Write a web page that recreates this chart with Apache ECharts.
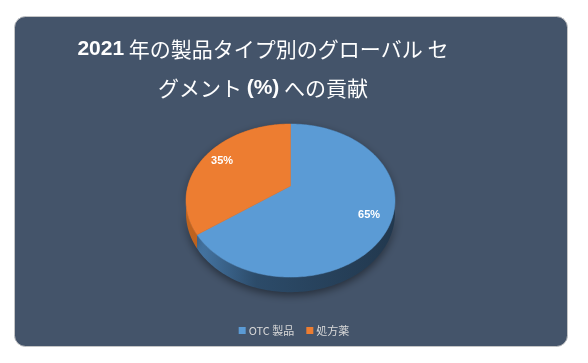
<!DOCTYPE html>
<html>
<head>
<meta charset="utf-8">
<script src="https://cdn.jsdelivr.net/npm/echarts@6/dist/echarts.min.js"></script>
<style>
html,body{margin:0;padding:0;background:#ffffff;}
#c{width:588px;height:363px;}
</style>
</head>
<body>
<div id="c"></div>
<script>
// ---- data ----
var categories = ['OTC 製品', '処方薬'];
var shares = [65, 35];
var labels = ['65%', '35%'];

var total = shares.reduce(function (a, b) { return a + b; }, 0);

// projection of a tilted circle (perspective)
var CX = 290.5, CY = 186, A = 73.8, B = 102.6, K = -0.19, DEPTH = 12.2;
function proj(theta, r, dz) {
  var u = Math.sin(theta) * r, v = -Math.cos(theta) * r;
  var den = 1 + K * v;
  return [CX + B * u / den, CY + A * v / den + (dz || 0) / den];
}

var topColors = ['#5B9BD5', '#ED7D31'];
var sideColors = [
  new echarts.graphic.LinearGradient(0, 0, 1, 0, [
    { offset: 0, color: '#4677a6' }, { offset: 0.3, color: '#2c4b69' }, { offset: 1, color: '#22384e' }]),
  new echarts.graphic.LinearGradient(0, 0, 1, 0, [
    { offset: 0, color: '#c0641f' }, { offset: 1, color: '#9a4e18' }])
];

function makeRender(idx) {
  return function (params, api) {
    var before = 0;
    for (var i = 0; i < idx; i++) before += shares[i];
    var val = api.value(0);
    var t0 = before / total * Math.PI * 2;
    var t1 = (before + val) / total * Math.PI * 2;
    var n = Math.max(8, Math.ceil((t1 - t0) / 0.02));
    var topPts = [[CX, CY]];
    var arcTop = [], arcBot = [];
    for (var j = 0; j <= n; j++) {
      var t = t0 + (t1 - t0) * j / n;
      arcTop.push(proj(t, 1, 0));
      arcBot.push(proj(t, 1, DEPTH));
    }
    topPts = topPts.concat(arcTop);
    var sidePts = arcTop.concat(arcBot.slice().reverse());
    var mid = (t0 + t1) / 2;
    var lp = proj(mid, 0.8, 0);
    return {
      type: 'group',
      children: [
        { type: 'polygon', z2: 1, shape: { points: sidePts },
          style: { fill: sideColors[idx], shadowColor: 'rgba(0,0,0,0.45)', shadowBlur: 8, shadowOffsetY: 3 } },
        { type: 'polygon', z2: 10, shape: { points: topPts },
          style: { fill: topColors[idx], stroke: topColors[idx], lineWidth: 0.5 } },
        { type: 'text', z2: 20, x: lp[0], y: lp[1],
          style: { text: labels[idx], fill: '#ffffff', font: 'bold 11px "Liberation Sans", Arial, sans-serif',
                   align: 'center', verticalAlign: 'middle' } }
      ]
    };
  };
}

var chart = echarts.init(document.getElementById('c'), null, { renderer: 'canvas' });
chart.setOption({
  backgroundColor: '#ffffff',
  animation: false,
  graphic: [{
    type: 'rect', z: -10, shape: { x: 14.5, y: 16.5, width: 553, height: 330, r: 11 },
    style: { fill: '#44546A', stroke: 'rgba(200,200,200,0.9)', lineWidth: 1 }
  }],
  title: {
    text: '{b|2021} 年の製品タイプ別のグローバル セ\nグメント {b|(%)} への貢献',
    left: 258, top: 25, textAlign: 'center',
    textStyle: {
      color: '#ffffff', fontSize: 21, lineHeight: 39, fontWeight: 'normal',
      fontFamily: '"Noto Sans CJK JP", sans-serif',
      rich: {
        b: { color: '#ffffff', fontSize: 21, lineHeight: 39, fontWeight: 'bold', fontFamily: '"Liberation Sans", Arial, sans-serif' }
      }
    }
  },
  legend: {
    data: categories, left: 'center', top: 320, icon: 'rect', itemWidth: 7, itemHeight: 7, itemGap: 12,
    textStyle: { color: '#d9d9d9', fontSize: 11, fontFamily: '"Noto Sans CJK JP", sans-serif', padding: [0, 0, 0, -2] }
  },
  series: categories.map(function (name, idx) {
    return {
      type: 'custom', name: name, coordinateSystem: 'none',
      itemStyle: { color: topColors[idx] },
      data: [[shares[idx]]],
      renderItem: makeRender(idx)
    };
  })
});
</script>
</body>
</html>
